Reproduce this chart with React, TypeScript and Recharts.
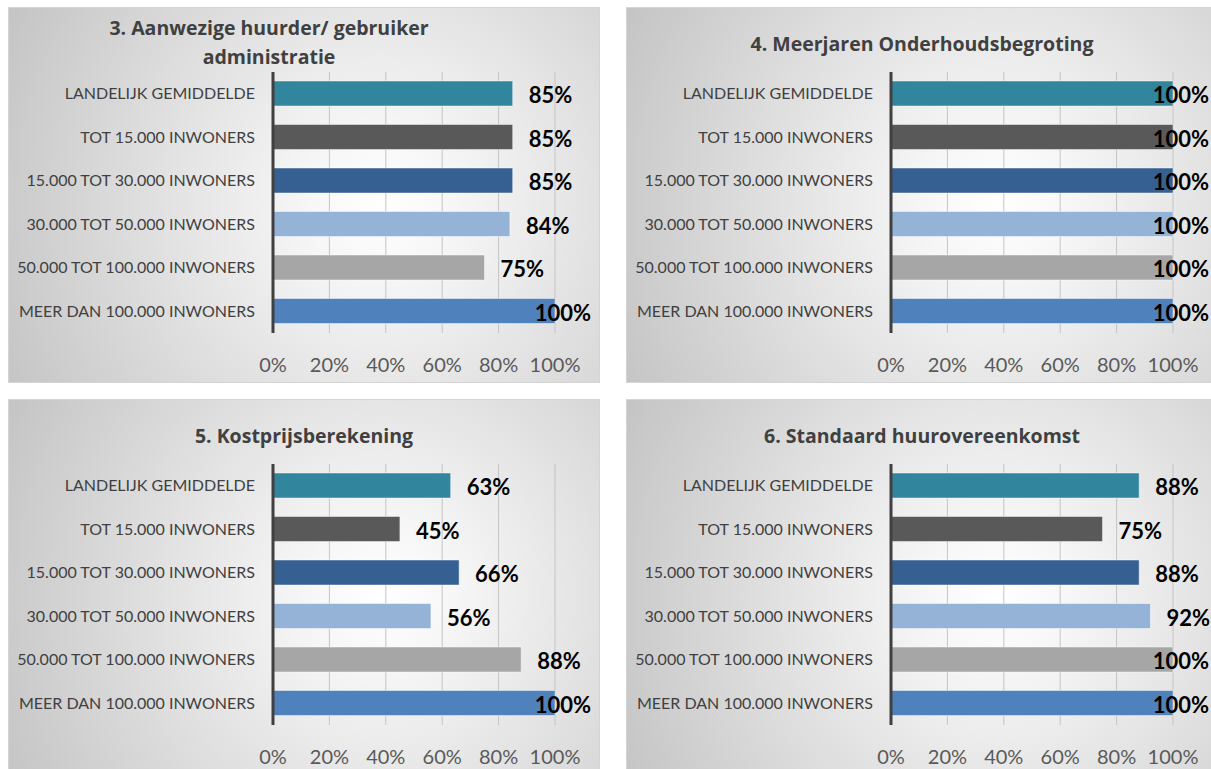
import React from 'react';
import { BarChart, Bar, XAxis, YAxis, CartesianGrid, Cell, LabelList } from 'recharts';

const categories = [
  'LANDELIJK GEMIDDELDE',
  'TOT 15.000 INWONERS',
  '15.000 TOT 30.000 INWONERS',
  '30.000 TOT 50.000 INWONERS',
  '50.000 TOT 100.000 INWONERS',
  'MEER DAN 100.000 INWONERS',
];
const barColors = ['#31859C', '#595959', '#376092', '#95B3D7', '#A6A6A6', '#4F81BD'];
const xTicks = [0, 20, 40, 60, 80, 100];

const huurderValues = [85, 85, 85, 84, 75, 100];
const mopValues = [100, 100, 100, 100, 100, 100];
const kostprijsValues = [63, 45, 66, 56, 88, 100];
const huurovereenkomstValues = [88, 75, 88, 92, 100, 100];

const title3 = ['3. Aanwezige huurder/ gebruiker', 'administratie'];
const title4 = ['4. Meerjaren Onderhoudsbegroting'];
const title5 = ['5. Kostprijsberekening'];
const title6 = ['6. Standaard huurovereenkomst'];

const PANEL_W = 592;
const PANEL_H = 376;
const FONT = 'Lato, "Open Sans", sans-serif';
const FONT2 = '"Open Sans", Lato, sans-serif';

const makeLabel = (limit: number) => (props: any) => {
  const { x, y, width, height, value } = props;
  const text = `${value}%`;
  const est = text.length * 13.5;
  let tx = x + width + 16;
  let anchor: 'start' | 'end' = 'start';
  if (tx + est > limit) {
    tx = limit;
    anchor = 'end';
  }
  return (
    <text
      x={tx}
      y={y + height / 2 + 1}
      textAnchor={anchor}
      dominantBaseline="central"
      fill="#000000"
      fontSize={22}
      fontWeight={700}
      fontFamily={FONT}
    >
      {text}
    </text>
  );
};

function Panel({ left, top, title, values, titleCenter }: { left: number; top: number; title: string[]; values: number[]; titleCenter: number }) {
  const data = categories.map((name, i) => ({ name, value: values[i] }));
  const titleTop = title.length > 1 ? 6 : 22;
  return (
    <div
      style={{
        position: 'absolute',
        left,
        top,
        width: PANEL_W,
        height: PANEL_H,
        background: 'radial-gradient(circle at 63% 52%, #ffffff 0%, #f6f6f6 18%, #c4c4c4 100%)',
        boxShadow: 'inset 0 0 0 1px #d4d4d4',
        fontFamily: FONT,
      }}
    >
      <div
        style={{
          position: 'absolute',
          left: titleCenter - 250,
          width: 500,
          top: titleTop,
          textAlign: 'center',
          fontWeight: 700,
          fontSize: 19.5,
          lineHeight: '29px',
          color: '#404040',
          fontFamily: FONT2,
        }}
      >
        {title.map((t, i) => (
          <div key={i}>{t}</div>
        ))}
      </div>
      <div style={{ position: 'absolute', left: 0, top: 0 }}>
        <BarChart
          width={PANEL_W}
          height={PANEL_H}
          data={data}
          layout="vertical"
          margin={{ top: 65, right: 45, bottom: 10, left: 0 }}
          barSize={25}
        >
          <CartesianGrid horizontal={false} stroke="#c4c4c4" strokeWidth={1} />
          <XAxis
            type="number"
            domain={[0, 100]}
            ticks={xTicks}
            tickFormatter={(v: number) => `${v}%`}
            axisLine={false}
            tickLine={false}
            tickSize={0}
            tickMargin={25}
            height={40}
            interval={0}
            tick={{ fill: '#595959', fontSize: 20, fontFamily: FONT }}
          />
          <YAxis
            type="category"
            dataKey="name"
            width={265}
            interval={0}
            axisLine={{ stroke: '#404040', strokeWidth: 3 }}
            tickLine={false}
            tickSize={0}
            tickMargin={18}
            tick={{ fill: '#404040', fontSize: 16, fontFamily: FONT }}
          />
          <Bar dataKey="value" isAnimationActive={false} stroke="rgba(255,255,255,0.45)" strokeWidth={1}>
            {data.map((d, i) => (
              <Cell key={d.name} fill={barColors[i]} />
            ))}
            <LabelList dataKey="value" content={makeLabel(PANEL_W - 9)} />
          </Bar>
        </BarChart>
      </div>
    </div>
  );
}

export default function App() {
  return (
    <div
      style={{
        position: 'fixed',
        left: 0,
        top: 0,
        width: 1211,
        height: 769,
        overflow: 'hidden',
        background: '#ffffff',
      }}
    >
      <Panel left={8} top={7} title={title3} values={huurderValues} titleCenter={261} />
      <Panel left={626} top={7} title={title4} values={mopValues} titleCenter={296} />
      <Panel left={8} top={399} title={title5} values={kostprijsValues} titleCenter={296} />
      <Panel left={626} top={399} title={title6} values={huurovereenkomstValues} titleCenter={296} />
    </div>
  );
}
